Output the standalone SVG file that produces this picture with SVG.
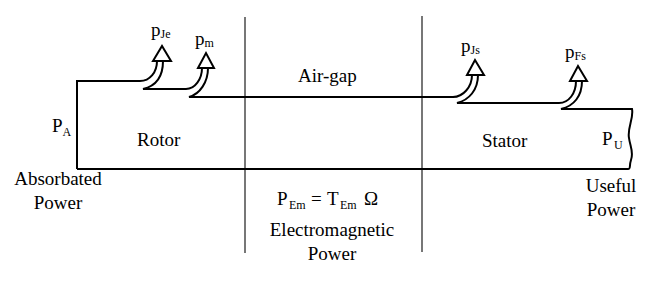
<svg xmlns="http://www.w3.org/2000/svg" width="672" height="284" viewBox="0 0 672 284">
<style>
.t{font-family:'Liberation Serif','Times New Roman',Tinos,'DejaVu Serif',serif;font-size:19px;fill:#000}
.s{font-size:12px}
.ln{fill:none;stroke:#000;stroke-width:2;stroke-linejoin:miter}
.ar{fill:#fff;stroke:#000;stroke-width:2;stroke-linejoin:miter}
.sep{fill:none;stroke:#555;stroke-width:1.6}
</style>
<rect width="672" height="284" fill="#fff"/>
<g id="separators">
<line class="sep" x1="245" y1="17" x2="245" y2="253"/>
<line class="sep" x1="422" y1="16" x2="422" y2="252"/>
</g>
<g id="connectors">
<path class="ln" d="M77,169 L77,81 L140,81 C150,81 157,72 157,61"/>
<path class="ln" d="M163,61 C163,76 156,86 143,89 L186,89 C195,89 202,79 202,68"/>
<path class="ln" d="M208,68 C208,82 200,94 189,97 L453,97 C463,97 472,87 472,75"/>
<path class="ln" d="M478,75 C478,90 469,100 457,103 L559,103 C569,103 576,93 576,81"/>
<path class="ln" d="M582,81 C582,96 574,106 561,109 L632,109 C634,118 627,128 629,138 C630,146 634,152 631,160 C629,166 631,169 628,169 L77,169"/>
</g>
<g id="arrow-pJe">
<path class="ar" d="M153,61 L162,46 L171,61 Z"/>
<text class="t" x="151" y="36">p<tspan class="s" dy="2">Je</tspan></text>
</g>
<g id="arrow-pm">
<path class="ar" d="M198,68 L206,53 L214,68 Z"/>
<text class="t" x="195" y="45">p<tspan class="s" dy="2">m</tspan></text>
</g>
<g id="arrow-pJs">
<path class="ar" d="M467,75 L475,60 L484,75 Z"/>
<text class="t" x="461" y="52">p<tspan class="s" dy="2">Js</tspan></text>
</g>
<g id="arrow-pFs">
<path class="ar" d="M570,81 L578,66 L587,81 Z"/>
<text class="t" x="565" y="58">p<tspan class="s" dy="2">Fs</tspan></text>
</g>
<g id="labels">
<text class="t" x="52" y="132">P<tspan class="s" dy="4">A</tspan></text>
<text class="t" x="137" y="146">Rotor</text>
<text class="t" x="298" y="82">Air-gap</text>
<text class="t" x="482" y="147">Stator</text>
<text class="t" x="602" y="145">P<tspan class="s" x="614" dy="4">U</tspan></text>
<text class="t" x="58" y="185" text-anchor="middle">Absorbated</text>
<text class="t" x="58" y="209" text-anchor="middle">Power</text>
<text class="t" x="611" y="192" text-anchor="middle">Useful</text>
<text class="t" x="611" y="216" text-anchor="middle">Power</text>
<text class="t" x="277" y="205" font-size="20">P<tspan class="s" x="289" dy="4">Em</tspan><tspan x="311" dy="-4">=</tspan><tspan x="327">T</tspan><tspan class="s" x="340" dy="4">Em</tspan><tspan x="364" dy="-4">Ω</tspan></text>
<text class="t" x="332" y="236" text-anchor="middle">Electromagnetic</text>
<text class="t" x="332" y="260" text-anchor="middle">Power</text>
</g>
</svg>
